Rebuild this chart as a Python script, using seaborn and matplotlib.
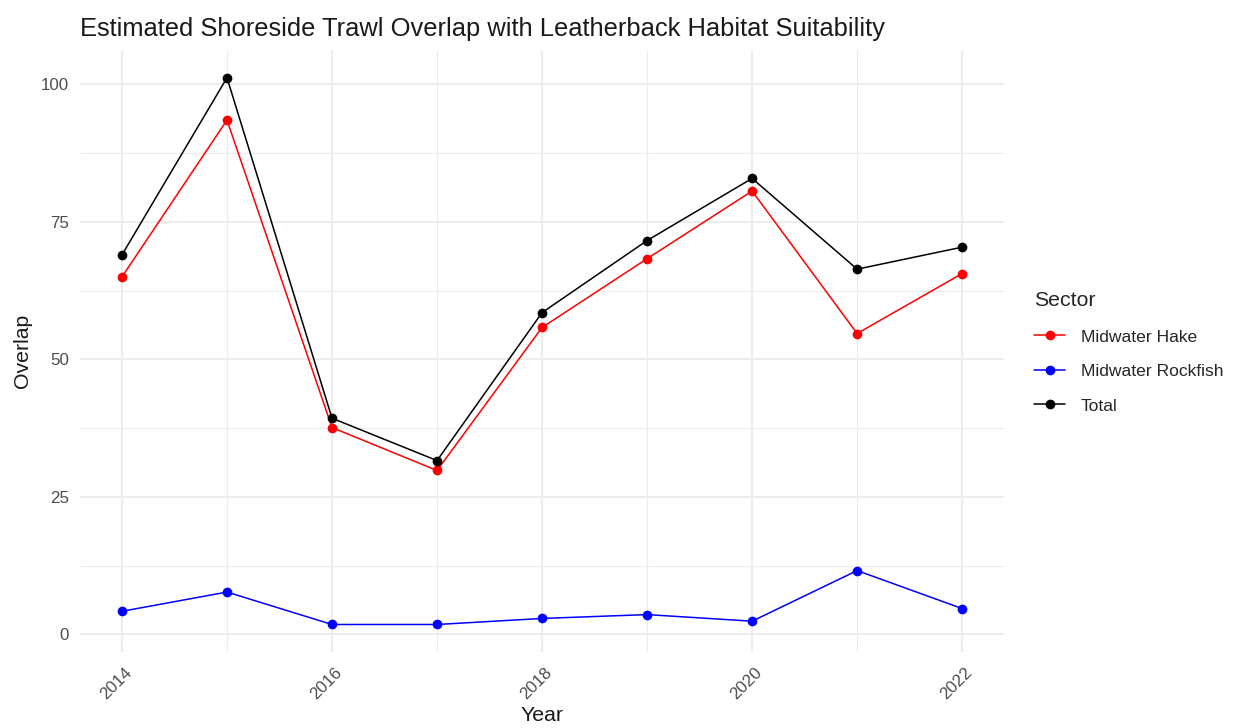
import matplotlib
matplotlib.use("Agg")
import matplotlib.pyplot as plt
import matplotlib.transforms as mtransforms
import seaborn as sns
import pandas as pd
import numpy as np

years = [2014, 2015, 2016, 2017, 2018, 2019, 2020, 2021, 2022]
hake = [65.0, 93.5, 37.6, 29.8, 55.8, 68.3, 80.6, 54.7, 65.6]
rockfish = [4.2, 7.7, 1.8, 1.8, 2.9, 3.6, 2.4, 11.6, 4.7]
total = [69.0, 101.2, 39.3, 31.6, 58.5, 71.6, 82.9, 66.4, 70.4]
sectors = ["Midwater Hake", "Midwater Rockfish", "Total"]
colors = {"Midwater Hake": "#FF0000", "Midwater Rockfish": "#0000FF", "Total": "#000000"}

df = pd.DataFrame({
    "Year": years * 3,
    "Overlap": hake + rockfish + total,
    "Sector": [sectors[0]] * len(years) + [sectors[1]] * len(years) + [sectors[2]] * len(years),
})

sns.set_theme(style="white")
plt.rcParams['font.family'] = ['Liberation Sans', 'DejaVu Sans']

fig = plt.figure(figsize=(12.38, 7.28), dpi=100)
ax = fig.add_axes([0.0646, 0.1044, 0.7465, 0.8266])

sns.lineplot(data=df, x="Year", y="Overlap", hue="Sector", hue_order=sectors,
             palette=colors, marker="o", markersize=7, markeredgewidth=0,
             linewidth=1.1, ax=ax, zorder=3)

ax.set_xlim(2013.6, 2022.4)
ax.set_ylim(-3.2, 106.2)
ax.set_xticks([2014, 2016, 2018, 2020, 2022])
ax.set_xticks([2015, 2017, 2019, 2021], minor=True)
ax.set_yticks([0, 25, 50, 75, 100])
ax.set_yticks([12.5, 37.5, 62.5, 87.5], minor=True)
ax.grid(True, which="major", color="#EBEBEB", linewidth=1.3, zorder=0)
ax.grid(True, which="minor", color="#EBEBEB", linewidth=0.8, zorder=0)
ax.set_axisbelow(True)
for s in ax.spines.values():
    s.set_visible(False)
ax.tick_params(axis="both", which="both", length=0, colors="#4D4D4D", labelsize=12.2)
ax.tick_params(axis="y", pad=8)
ax.tick_params(axis="x", pad=9)
offset = mtransforms.ScaledTranslation(-0.06, 0, fig.dpi_scale_trans)
for lab in ax.get_xticklabels():
    lab.set_rotation(45)
    lab.set_ha("center")
    lab.set_va("top")
    lab.set_transform(lab.get_transform() + offset)
ax.set_xlabel("Year", fontsize=15.3, color="#1A1A1A", labelpad=3)
ax.set_ylabel("Overlap", fontsize=15.3, color="#1A1A1A", labelpad=6)
ax.set_title("Estimated Shoreside Trawl Overlap with Leatherback Habitat Suitability",
             fontsize=18.4, loc="left", color="#1A1A1A", pad=10)

leg = ax.legend(title="Sector", loc="center left", bbox_to_anchor=(1.015, 0.498),
                frameon=False, fontsize=12.6, title_fontsize=15.3, handlelength=1.8,
                labelspacing=1.1, alignment="left", handletextpad=0.9)

fig.savefig("out.png", dpi=100)
